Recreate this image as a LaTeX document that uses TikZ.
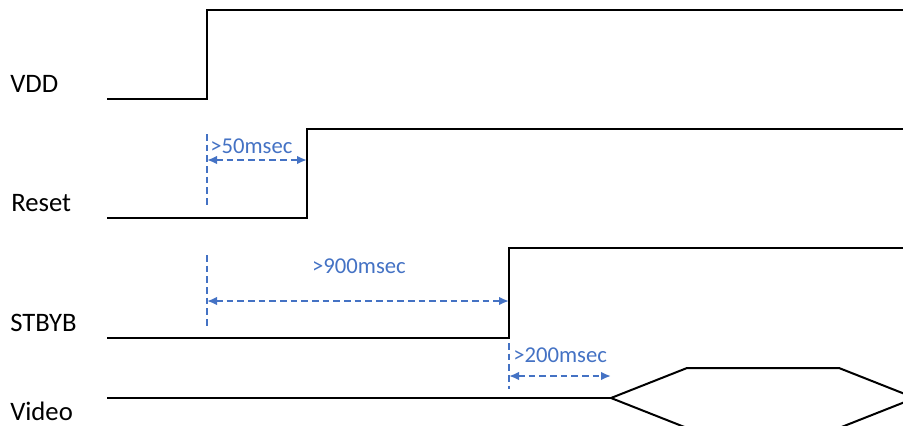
\documentclass[tikz,border=0pt]{standalone}
\usepackage{fontspec}
\setmainfont{Carlito}
\usepackage{xcolor}
\definecolor{DimBlue}{HTML}{4472C4}
\usetikzlibrary{arrows.meta,positioning,calc}
\tikzset{
  sigline/.style={line width=1.5pt, black, line join=miter},
  signame/.style={anchor=base west, font=\fontsize{20}{23}\selectfont, inner sep=0pt},
  guide/.style={line width=1.5pt, DimBlue, dash pattern=on 5pt off 3pt},
  dimarr/.style={{Latex[length=7.5pt,width=6.5pt]}-{Latex[length=7.5pt,width=6.5pt]}, line width=1.5pt,
                 DimBlue, dash pattern=on 5pt off 3pt},
  dimtext/.style={font=\fontsize{17}{20}\selectfont, text=DimBlue, inner sep=0pt}
}
\begin{document}
\begin{tikzpicture}[x=0.75pt, y=-0.75pt]
\useasboundingbox (0,0) rectangle (903,425);
\clip (0,0) rectangle (903,425);
% signal names
\node[signame] (vdd)   at (10,92)  {VDD};
\node[signame] (reset) at (11,211) {Reset};
\node[signame] (stbyb) at (10,331) {STBYB};
\node[signame] (video) at (10,420) {Video};
% edges
\coordinate (vddup)   at (207,99);
\coordinate (resetup) at (307,218);
\coordinate (stbyup)  at (509,338);
\coordinate (vidstart) at (611,398);
% waveforms
\draw[sigline] (107,99) -- (vddup) -- (207,10) -- (903,10);
\draw[sigline] (107,218) -- (resetup) -- (307,129) -- (903,129);
\draw[sigline] (107,338) -- (stbyup) -- (509,248) -- (903,248);
\draw[sigline] (107,398) -- (vidstart);
\draw[sigline] (vidstart) -- (687,368) -- (839,368) -- (915,398) -- (839,428) -- (687,428) -- cycle;
% timing marks
\draw[guide] (207,134) -- (207,206);
\draw[dimarr] (207,160) -- (resetup |- 0,160);
\node[dimtext, anchor=base west] (t50) at (210,153) {>50msec};
\draw[guide] (207,255) -- (207,328);
\draw[dimarr] (207,301) -- (stbyup |- 0,301);
\node[dimtext, anchor=base] (t900) at (359,273) {>900msec};
\draw[guide] (509,343) -- (509,389);
\draw[dimarr] (509,376) -- (vidstart |- 0,376);
\node[dimtext, anchor=base west] (t200) at (513,362) {>200msec};
\end{tikzpicture}
\end{document}
